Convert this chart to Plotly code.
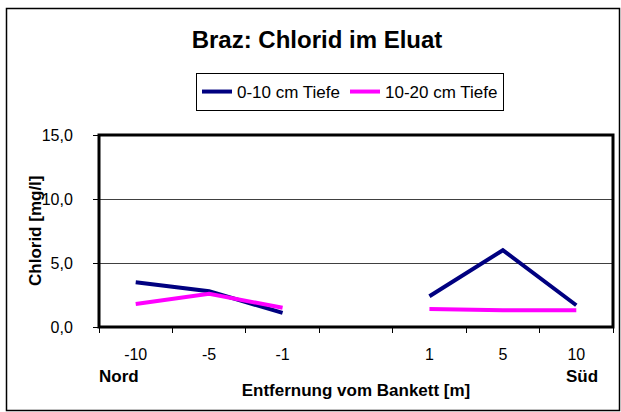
import plotly.graph_objects as go

# ---- data ----
categories = ["-10", "-5", "-1", " ", "1", "5", "10"]
tiefe_0_10 = [3.5, 2.8, 1.1, None, 2.4, 6.0, 1.7]
tiefe_10_20 = [1.8, 2.6, 1.5, None, 1.4, 1.3, 1.3]
series_names = ["0-10 cm Tiefe", "10-20 cm Tiefe"]
y_ticks = [0, 5, 10, 15]

W, H = 621, 412
ML, MR, MT, MB = 99, 8, 135, 85
PW, PH = W - ML - MR, H - MT - MB

def px_x(x):
    return (x - ML) / PW

def px_y(y):
    return (H - MB - y) / PH

FONT = "Liberation Sans, Arial, sans-serif"

fig = go.Figure()
fig.add_trace(go.Scatter(x=categories, y=tiefe_0_10, mode="lines", name=series_names[0],
                         line=dict(color="#000080", width=4), connectgaps=False))
fig.add_trace(go.Scatter(x=categories, y=tiefe_10_20, mode="lines", name=series_names[1],
                         line=dict(color="#FF00FF", width=4), connectgaps=False))

fig.update_layout(
    width=W, height=H,
    margin=dict(l=ML, r=MR, t=MT, b=MB, autoexpand=False),
    paper_bgcolor="white", plot_bgcolor="white",
    separators=",.",
    font=dict(family=FONT, color="black", size=16),
    showlegend=True,
    title=dict(text="<b>Braz: Chlorid im Eluat</b>", x=317 / W, xref="container", xanchor="center",
               y=1 - 40 / H, yref="container", yanchor="middle",
               font=dict(size=24, family=FONT, color="black")),
    legend=dict(orientation="h", x=px_x(196), xanchor="left", y=px_y(73), yanchor="top",
                bordercolor="black", borderwidth=1, bgcolor="white",
                font=dict(size=17, family=FONT), tracegroupgap=0),
    xaxis=dict(type="category", categoryorder="array", categoryarray=categories,
               range=[-0.5, len(categories) - 0.5],
               showgrid=False, zeroline=False, showline=False,
               ticks="outside", tickson="boundaries", ticklen=5, tickcolor="black", tickwidth=1,
               tickfont=dict(size=16), ticklabelstandoff=16,
               title=dict(text="<b>Entfernung vom Bankett [m]</b>", font=dict(size=17), standoff=22),
               fixedrange=True),
    yaxis=dict(range=[0, 15], tickvals=y_ticks, tickformat=".1f",
               showgrid=True, gridcolor="#404040", gridwidth=1, zeroline=False, showline=False,
               ticks="outside", ticklen=5, tickcolor="black", tickwidth=1,
               tickfont=dict(size=16), ticklabelstandoff=17,
               fixedrange=True),
)

# plot area border
fig.add_shape(type="rect", xref="paper", yref="paper", x0=0, x1=1, y0=0, y1=1,
              line=dict(color="black", width=3), layer="above")
# outer chart frame
fig.add_shape(type="rect", xref="paper", yref="paper",
              x0=px_x(6.5), x1=px_x(619.5), y0=px_y(410.5), y1=px_y(8.5),
              line=dict(color="black", width=1.5), layer="above")

# y axis title
fig.add_annotation(text="<b>Chlorid [mg/l]</b>", xref="paper", yref="paper", x=px_x(35), y=0.5,
                   xanchor="center", yanchor="middle", textangle=-90, showarrow=False,
                   font=dict(size=17))
fig.add_annotation(text="<b>Nord</b>", xref="paper", yref="paper", x=px_x(97), y=px_y(376),
                   xanchor="left", yanchor="middle", showarrow=False, font=dict(size=17))
fig.add_annotation(text="<b>Süd</b>", xref="paper", yref="paper", x=px_x(582), y=px_y(376),
                   xanchor="center", yanchor="middle", showarrow=False, font=dict(size=17))

fig.write_html("out.html", post_script="document.body.style.margin='0';",
               config={"displayModeBar": False})
